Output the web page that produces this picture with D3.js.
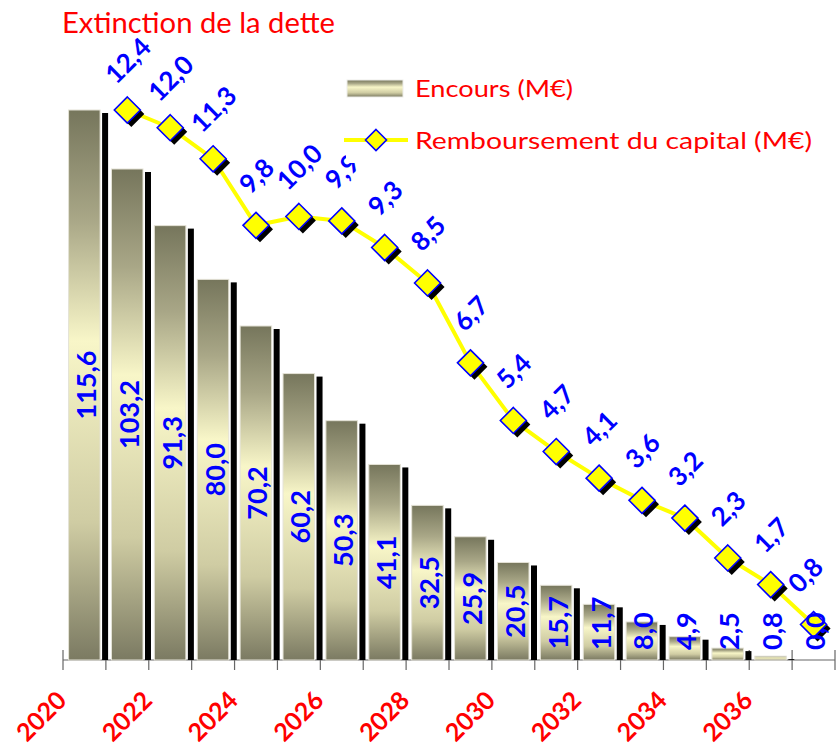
<!DOCTYPE html>
<html>
<head>
<meta charset="utf-8">
<script src="https://cdn.jsdelivr.net/npm/d3@7"></script>
<style>
  html, body { margin: 0; padding: 0; background: #fff; }
  svg { display: block; font-family: Lato, "Open Sans", sans-serif; }
</style>
</head>
<body>
<svg id="chart" width="840" height="752"></svg>
<script>
// Categories (years) and series
const years = ["2020","2021","2022","2023","2024","2025","2026","2027","2028",
               "2029","2030","2031","2032","2033","2034","2035","2036","2037"];
const encours = [115.6, 103.2, 91.3, 80.0, 70.2, 60.2, 50.3, 41.1, 32.5,
                 25.9, 20.5, 15.7, 11.7, 8.0, 4.9, 2.5, 0.8, 0.0];
const rembYears = ["2021","2022","2023","2024","2025","2026","2027","2028","2029",
                   "2030","2031","2032","2033","2034","2035","2036","2037"];
const remboursement = [12.4, 12.0, 11.3, 9.8, 10.0, 9.9, 9.3, 8.5, 6.7,
                       5.4, 4.7, 4.1, 3.6, 3.2, 2.3, 1.7, 0.8];
const tickLabels = ["2020","2022","2024","2026","2028","2030","2032","2034","2036"];

const title = "Extinction de la dette";
const legendBars = "Encours (M\u20AC)";
const legendLine = "Remboursement du capital (M\u20AC)";

const svg = d3.select("#chart");
const fmt = v => d3.format(".1f")(v).replace(".", ",");

const baseY = 660, topY = 110;
const x = d3.scaleBand().domain(years).range([63, 835]).padding(0);
const y1 = d3.scaleLinear().domain([0, d3.max(encours)]).range([baseY, topY]);
const y2 = d3.scaleLinear().domain([0, d3.max(remboursement)]).range([baseY, topY]);
const bw = x.bandwidth();

// Bar fill: dark ends, pale centre
const defs = svg.append("defs");
const grad = defs.append("linearGradient").attr("id", "barGrad")
  .attr("x1", 0).attr("y1", 0).attr("x2", 0).attr("y2", 1);
[[0, "#76765c"], [0.2, "#a9a787"], [0.42, "#f8f6c8"], [0.75, "#cfcca3"], [1, "#7b7a62"]]
  .forEach(([o, c]) => grad.append("stop").attr("offset", o).attr("stop-color", c));

// Axis line with tick marks (bars are drawn over them)
const axis = svg.append("g").attr("class", "x-axis");
axis.append("line").attr("x1", 63).attr("x2", 835).attr("y1", baseY).attr("y2", baseY)
  .attr("stroke", "#666").attr("stroke-width", 1.2);
const tickPos = years.map(d => x(d)).concat([x(years[years.length - 1]) + bw]);
axis.selectAll(".tick").data(tickPos).join("line")
  .attr("x1", d => d).attr("x2", d => d)
  .attr("y1", baseY - 10).attr("y2", baseY + 10)
  .attr("stroke", "#666").attr("stroke-width", 1.2);

axis.selectAll(".lbl").data(tickLabels).join("text")
  .attr("transform", d => `translate(${x(d) + 5},702) rotate(-45)`)
  .attr("text-anchor", "end")
  .attr("fill", "#ff0000").attr("font-weight", 700).attr("font-size", 25)
  .text(d => d);

// Bars with their black side shadow
const barX = d => x(d) + bw * 0.13;
const barW = bw * 0.735;
const bars = svg.append("g").attr("class", "bars");
const data = years.map((d, i) => ({ year: d, v: encours[i] }));
bars.selectAll(".shadow").data(data).join("rect")
  .attr("x", d => barX(d.year) + barW + 2)
  .attr("y", d => Math.min(y1(d.v) + 3, baseY))
  .attr("width", 6)
  .attr("height", d => baseY - Math.min(y1(d.v) + 3, baseY))
  .attr("fill", "#000");
bars.selectAll(".bar").data(data).join("rect")
  .attr("x", d => barX(d.year))
  .attr("y", d => y1(d.v))
  .attr("width", barW)
  .attr("height", d => baseY - y1(d.v))
  .attr("fill", "url(#barGrad)")
  .attr("stroke", "#e4e2d6").attr("stroke-width", 1);

// Repayment line
const pts = rembYears.map((d, i) => ({ year: d, v: remboursement[i] }));
const line = d3.line().x(d => x(d.year) + bw / 2).y(d => y2(d.v));
svg.append("path").datum(pts).attr("d", line)
  .attr("fill", "none").attr("stroke", "#ffff00").attr("stroke-width", 4)
  .attr("stroke-linejoin", "round");

const diamond = r => `M0,${-r}L${r},0L0,${r}L${-r},0Z`;
const mk = svg.append("g").attr("class", "markers");
mk.selectAll(".mshadow").data(pts).join("path")
  .attr("d", diamond(13))
  .attr("transform", d => `translate(${x(d.year) + bw / 2 + 4},${y2(d.v) + 4})`)
  .attr("fill", "#000");
mk.selectAll(".m").data(pts).join("path")
  .attr("d", diamond(13))
  .attr("transform", d => `translate(${x(d.year) + bw / 2},${y2(d.v)})`)
  .attr("fill", "#ffff00").attr("stroke", "#0000ff").attr("stroke-width", 1.6);

// Value labels inside the bars
const barLbl = svg.append("g").attr("class", "bar-labels");
barLbl.selectAll("text").data(data).join("text")
  .attr("text-anchor", "middle").attr("dominant-baseline", "central")
  .attr("fill", "#0000ff").attr("font-weight", 700).attr("font-size", 27)
  .text(d => fmt(d.v))
  .attr("transform", function(d) {
    const len = this.getComputedTextLength();
    const mid = (y1(d.v) + baseY) / 2;
    const cy = Math.min(mid, 650 - len / 2);
    return `translate(${barX(d.year) + barW / 2 + 1},${cy}) rotate(-90)`;
  });

// Value labels above the markers
svg.append("g").attr("class", "line-labels")
  .selectAll("text").data(pts).join("text")
  .attr("transform", d => `translate(${Math.min(x(d.year) + bw / 2, 805)},${y2(d.v) - 50}) rotate(-45)`)
  .attr("text-anchor", "middle").attr("dominant-baseline", "central")
  .attr("fill", "#0000ff").attr("font-weight", 700).attr("font-size", 26)
  .text(d => fmt(d.v));

// Legend on a white box
const lg = svg.append("g").attr("class", "legend");
lg.append("rect").attr("x", 346).attr("y", 62).attr("width", 484).attr("height", 101).attr("fill", "#fff");
lg.append("rect").attr("x", 347).attr("y", 80).attr("width", 56).attr("height", 17)
  .attr("fill", "url(#barGrad)").attr("stroke", "#eeeeea").attr("stroke-width", 1);
lg.append("text").attr("x", 415).attr("y", 97)
  .attr("fill", "#ff0000").attr("font-size", 24)
  .attr("textLength", 158).attr("lengthAdjust", "spacingAndGlyphs")
  .text(legendBars);
lg.append("line").attr("x1", 344).attr("x2", 408).attr("y1", 140).attr("y2", 140)
  .attr("stroke", "#ffff00").attr("stroke-width", 4);
lg.append("path").attr("d", diamond(10.5)).attr("transform", "translate(376,140)")
  .attr("fill", "#ffff00").attr("stroke", "#0000ff").attr("stroke-width", 1.6);
lg.append("text").attr("x", 415).attr("y", 149)
  .attr("fill", "#ff0000").attr("font-size", 24)
  .attr("textLength", 397).attr("lengthAdjust", "spacingAndGlyphs")
  .text(legendLine);

// Title
svg.append("text").attr("x", 62).attr("y", 33)
  .attr("fill", "#ff0000").attr("font-size", 28)
  .attr("textLength", 273).attr("lengthAdjust", "spacingAndGlyphs")
  .text(title);
</script>
</body>
</html>
